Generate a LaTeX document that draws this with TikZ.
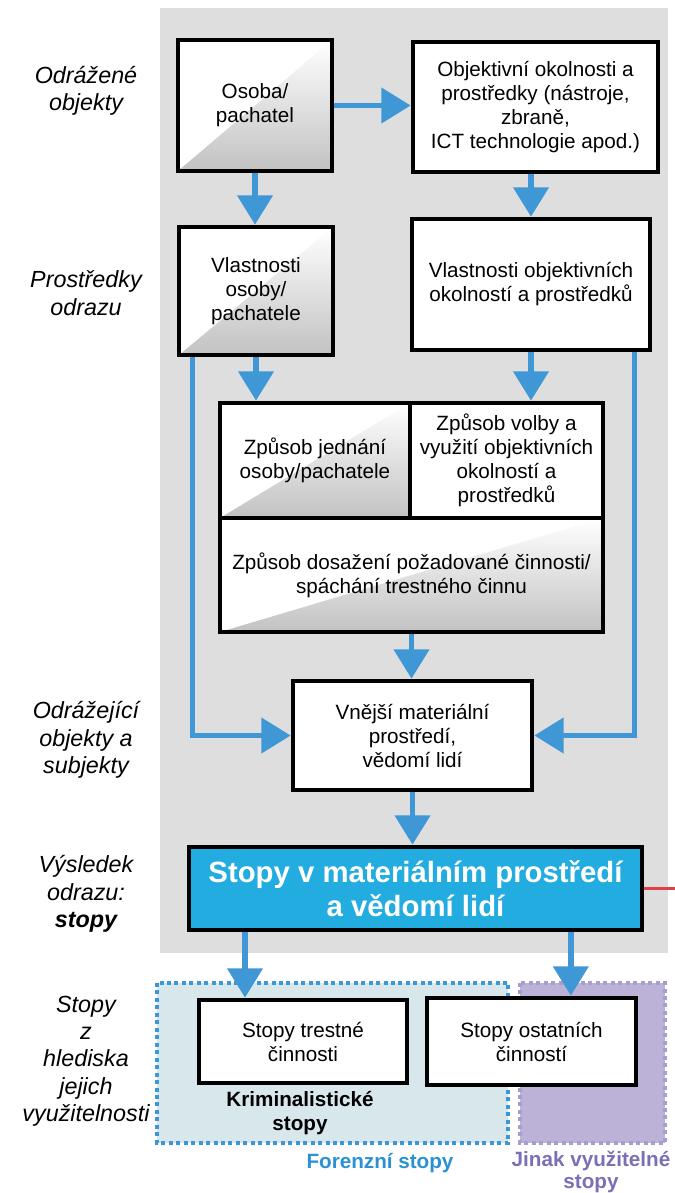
\documentclass[tikz,border=0pt]{standalone}
\usepackage{fontspec}
\setmainfont{Liberation Sans}
\usetikzlibrary{arrows.meta}
\definecolor{bggray}{HTML}{DEDEDE}
\definecolor{arrowblue}{HTML}{3F97D6}
\definecolor{stopyblue}{HTML}{22ACDF}
\definecolor{forfill}{HTML}{D7E7EC}
\definecolor{fordot}{HTML}{3A98D8}
\definecolor{purfill}{HTML}{BCB2D7}
\definecolor{purdot}{HTML}{A99DCE}
\definecolor{fortext}{HTML}{2A92D4}
\definecolor{purtext}{HTML}{7D6FB5}
\definecolor{redline}{HTML}{E0404A}
\tikzset{
  box/.style={draw=black, line width=3.5pt, fill=white, align=center, inner sep=2pt,
    font=\fontsize{15.5pt}{18pt}\selectfont},
  shadebox/.style={box, path picture={
    \shade[top color=white, middle color=black!5, bottom color=black!24]
      (path picture bounding box.south west) -- (path picture bounding box.north east)
      -- (path picture bounding box.south east) -- cycle;}},
  arr/.style={draw=arrowblue, line width=4pt, -{Triangle[length=22pt,width=26pt]}},
  sidelabel/.style={align=center, font=\fontsize{17.5pt}{20.5pt}\selectfont\itshape},
  dotframe/.style={line width=3pt, dash pattern=on 3pt off 2.6pt},
  grouplabel/.style={align=center, font=\fontsize{15.5pt}{18pt}\selectfont\bfseries}
}
\begin{document}
\begin{tikzpicture}[x=0.75pt,y=-0.75pt]
\useasboundingbox (0,0) rectangle (675,1193);
\fill[white] (0,0) rectangle (675,1193);
% gray background
\fill[bggray] (160,8) rectangle (668,953);
% bottom groups
\path[fill=forfill, draw=fordot, dotframe] (157,983) rectangle (508,1143);
\path[fill=purfill, draw=purdot, dotframe] (520,983) rectangle (665,1143);

% left labels
\node[sidelabel] (l1) at (86,91) {Odrážené\\objekty};
\node[sidelabel] (l2) at (86,293) {Prostředky\\odrazu};
\node[sidelabel] (l3) at (86,740) {Odrážející\\objekty a\\subjekty};
\node[sidelabel] (l4) at (86,894) {Výsledek\\odrazu:\\\textbf{stopy}};
\node[sidelabel] (l5) at (86,1061) {Stopy\\z\\hlediska\\jejich\\využitelnosti};

% boxes
\node[shadebox, minimum width=115.5pt, minimum height=98.25pt] (b1) at (255,105.5) {Osoba/\\pachatel};
\node[box, minimum width=183.75pt, minimum height=97.5pt] (b2) at (535.5,107) {Objektivní okolnosti a\\prostředky (nástroje,\\zbraně,\\ICT technologie apod.)};
\node[shadebox, minimum width=115.5pt, minimum height=96pt] (b3) at (256,291) {Vlastnosti\\osoby/\\pachatele};
\node[box, minimum width=178.5pt, minimum height=98.25pt] (b4) at (531,284.5) {Vlastnosti objektivních\\okolností a prostředků};
\node[shadebox, minimum width=142.5pt, minimum height=86.25pt] (ca) at (315,460.5) {Způsob jednání\\osoby/pachatele};
\node[box, minimum width=144.75pt, minimum height=86.25pt] (cb) at (506.5,460.5) {Způsob volby a\\využití objektivních\\okolností a\\prostředků};
\node[shadebox, minimum width=287.25pt, minimum height=85.5pt] (cc) at (411.5,575) {Způsob dosažení požadované činnosti/\\spáchání trestného činnu};
\node[box, minimum width=179.25pt, minimum height=81.75pt] (vn) at (412.5,735.5) {Vnější materiální\\prostředí,\\vědomí lidí};
\node[box, fill=stopyblue, text=white, minimum width=339.75pt, minimum height=62.25pt,
  font=\fontsize{22pt}{25.5pt}\selectfont\bfseries] (st) at (415.5,888.5) {Stopy v materiálním prostředí\\a vědomí lidí};
\node[box, minimum width=156pt, minimum height=62.25pt] (sa) at (303,1041.5) {Stopy trestné\\činnosti};
\node[box, minimum width=156.75pt, minimum height=65.25pt] (sb) at (531.5,1041.5) {Stopy ostatních\\činností};

% group labels
\node[grouplabel] (gk) at (300,1113) {Kriminalistické\\stopy};
\node[grouplabel, text=fortext] (gf) at (380,1163) {Forenzní stopy};
\node[grouplabel, text=purtext, font=\fontsize{15.5pt}{16.5pt}\selectfont\bfseries] (gj) at (591,1172) {Jinak využitelné\\stopy};

% connectors
\draw[arr] (b1.east) -- (b2.west |- b1.east);
\draw[arr] (b1.south) -- (b1.south |- b3.north);
\draw[arr] (b4.north |- b2.south) -- (b4.north);
\draw[arr] (b3.south) -- (b3.south |- ca.north);
\draw[arr] (b4.south) -- (b4.south |- cb.north);
\draw[arr] (cc.south) -- (cc.south |- vn.north);
\coordinate (lb) at ([xshift=12pt]b3.south west);
\coordinate (rb) at ([xshift=-13.5pt]b4.south east);
\draw[arr] (lb) |- (vn.west);
\draw[arr] (rb) |- (vn.east);
\draw[arr] (vn.south) -- (vn.south |- st.north);
\coordinate (ta) at ([xshift=-43.5pt]sa.north);
\coordinate (tb) at ([xshift=29.5pt]sb.north);
\draw[arr] (st.south -| ta) -- (ta);
\draw[arr] (st.south -| tb) -- (tb);
\coordinate (redend) at (675,887);
\draw[redline, line width=2.5pt] (st.east) -- (st.east -| redend);
\end{tikzpicture}
\end{document}
